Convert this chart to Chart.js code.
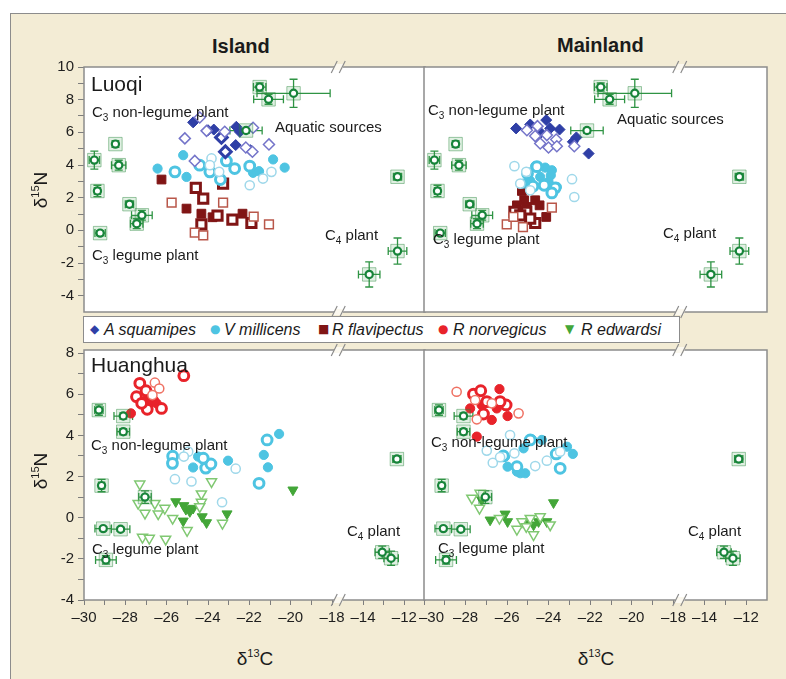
<!DOCTYPE html>
<html>
<head>
<meta charset="utf-8">
<script src="https://cdn.jsdelivr.net/npm/chart.js@4.4.1/dist/chart.umd.min.js"></script>
<style>
  body { margin: 0; background: #fff; font-family: "Liberation Sans", Arial, sans-serif; }
  #page { position: relative; width: 786px; height: 679px; overflow: hidden; }
  #frame { position: absolute; left: 10px; top: 13px; width: 800px; height: 700px; background: #f3ecd5; border: 1.5px solid #8c8c8c; }
  canvas { position: absolute; }
  .t { position: absolute; white-space: nowrap; color: #1b1b1b; font-size: 15px; line-height: 15px; }
  .t .s { font-size: 10px; position: relative; top: 4px; }
  .panel { font-size: 21px; line-height: 21px; }
  .col { font-size: 20px; line-height: 20px; font-weight: bold; }
  .ax { font-size: 19px; line-height: 19px; }
  .ax .p { font-size: 11px; position: relative; top: -8px; }
  #legend { position: absolute; left: 83px; top: 316px; width: 597px; height: 27px; background: #fff; border: 1.5px solid #8c8c8c; box-sizing: border-box; }
  #legend span { position: absolute; top: 0; line-height: 25px; }
  #legend .sym { font-family: "DejaVu Sans"; font-size: 12px; }
  #legend .lt { font-style: italic; font-size: 16px; color: #1b1b1b; }
</style>
</head>
<body>
<div id="page">
  <div id="frame"></div>

  <div class="t col" style="left:212px;top:36px">Island</div>
  <div class="t col" style="left:557px;top:35px">Mainland</div>

  <canvas id="tl" width="395" height="273" style="left:40px;top:53px"></canvas>
  <canvas id="tr" width="383" height="273" style="left:394px;top:53px"></canvas>
  <canvas id="bl" width="395" height="296" style="left:40px;top:336px"></canvas>
  <canvas id="br" width="383" height="296" style="left:394px;top:336px"></canvas>

  <div id="legend">
    <span class="sym" style="left:6px;color:#2f3fa6">&#9670;</span><span class="lt" style="left:20px">A squamipes</span>
    <span class="sym" style="left:126px;color:#4ec4e2">&#9679;</span><span class="lt" style="left:140px">V millicens</span>
    <span class="sym" style="left:234px;color:#801515">&#9632;</span><span class="lt" style="left:248px">R flavipectus</span>
    <span class="sym" style="left:354px;color:#e8232a">&#9679;</span><span class="lt" style="left:369px">R norvegicus</span>
    <span class="sym" style="left:481px;color:#43a638">&#9660;</span><span class="lt" style="left:497px">R edwardsi</span>
  </div>

  <!-- panel annotations -->
  <div class="t panel" style="left:91px;top:73px">Luoqi</div>
  <div class="t" style="left:92px;top:104px">C<span class="s">3</span> non-legume plant</div>
  <div class="t" style="left:275px;top:119px">Aquatic sources</div>
  <div class="t" style="left:325px;top:227px">C<span class="s">4</span> plant</div>
  <div class="t" style="left:92px;top:247px">C<span class="s">3</span> legume plant</div>

  <div class="t" style="left:428px;top:102px">C<span class="s">3</span> non-legume plant</div>
  <div class="t" style="left:617px;top:111px">Aquatic sources</div>
  <div class="t" style="left:663px;top:225px">C<span class="s">4</span> plant</div>
  <div class="t" style="left:433px;top:231px">C<span class="s">3</span> legume plant</div>

  <div class="t panel" style="left:91px;top:354px">Huanghua</div>
  <div class="t" style="left:91px;top:437px">C<span class="s">3</span> non-legume plant</div>
  <div class="t" style="left:347px;top:523px">C<span class="s">4</span> plant</div>
  <div class="t" style="left:92px;top:541px">C<span class="s">3</span> legume plant</div>

  <div class="t" style="left:431px;top:434px">C<span class="s">3</span> non-legume plant</div>
  <div class="t" style="left:688px;top:523px">C<span class="s">4</span> plant</div>
  <div class="t" style="left:438px;top:540px">C<span class="s">3</span> legume plant</div>

  <div class="t ax" style="left:42px;top:190px;transform:translate(-50%,-50%) rotate(-90deg)">&delta;<span class="p">15</span>N</div>
  <div class="t ax" style="left:42px;top:471px;transform:translate(-50%,-50%) rotate(-90deg)">&delta;<span class="p">15</span>N</div>
  <div class="t ax" style="left:255px;top:660px;transform:translate(-50%,-50%)">&delta;<span class="p">13</span>C</div>
  <div class="t ax" style="left:596px;top:660px;transform:translate(-50%,-50%)">&delta;<span class="p">13</span>C</div>
</div>

<script>
// ---- axis ticks (real delta13C values; the axis is broken between -18 and -14)
const xMajorLeft = [-30, -28, -26, -24, -22, -20, -18];
const xMajorRight = [-14, -12];
const yMajorTop = [-4, -2, 0, 2, 4, 6, 8, 10];
const yMajorBottom = [-4, -2, 0, 2, 4, 6, 8];

// ---- food sources: x, y, x error, y error
const luoqiSrcX = [-21.5, -21.07, -19.86, -22.16, -29.5, -28.48, -28.32, -29.35, -27.8, -27.2, -27.45, -29.22, -12.33, -12.33, -13.7];
const luoqiSrcY = [8.77, 8.02, 8.39, 6.11, 4.3, 5.28, 3.99, 2.41, 1.6, 0.92, 0.41, -0.17, 3.28, -1.27, -2.7];
const luoqiSrcXErr = [0.3, 0.72, 1.77, 0.78, 0.25, 0.15, 0.35, 0.15, 0.2, 0.5, 0.3, 0.25, 0.2, 0.45, 0.52];
const luoqiSrcYErr = [0.25, 0.3, 0.86, 0.15, 0.55, 0.2, 0.3, 0.35, 0.2, 0.3, 0.3, 0.15, 0.2, 0.8, 0.77];

const huangSrcX = [-29.28, -28.1, -28.1, -29.15, -27.05, -29.07, -28.23, -28.94, -12.36, -13.07, -12.64];
const huangSrcY = [5.23, 4.94, 4.18, 1.56, 1.0, -0.53, -0.56, -2.05, 2.85, -1.68, -1.97];
const huangSrcXErr = [0.2, 0.45, 0.3, 0.15, 0.3, 0.4, 0.45, 0.5, 0.2, 0.35, 0.35];
const huangSrcYErr = [0.25, 0.15, 0.15, 0.3, 0.3, 0.1, 0.1, 0.2, 0.15, 0.3, 0.35];

// ---- Luoqi, island
const luoqiIslSquFill = [[-24.72,6.61],[-24.0,6.13],[-23.72,6.17],[-22.63,6.34],[-22.46,6.03],[-22.66,5.22],[-21.95,4.91]];
const luoqiIslSquRing = [[-23.35,5.69],[-23.16,4.81]];
const luoqiIslSquOpen = [[-24.4,6.91],[-25.12,5.63],[-24.64,4.25],[-24.07,6.09],[-23.19,6.03],[-21.82,6.28],[-22.17,5.07],[-21.85,4.81],[-21.05,5.26]];
const luoqiIslMilFill = [[-26.44,3.78],[-25.2,4.6],[-25.04,3.27],[-21.82,3.52],[-21.53,3.62],[-20.85,4.34],[-20.29,3.84]];
const luoqiIslMilRing = [[-25.6,3.58],[-24.4,3.99],[-23.91,3.58],[-23.4,3.11],[-23.11,4.25],[-22.71,3.78],[-21.98,3.93]];
const luoqiIslMilOpen = [[-23.83,4.4],[-23.91,3.99],[-23.46,3.58],[-21.34,3.17],[-20.93,3.58],[-21.98,2.76]];
const luoqiIslFlaFill = [[-26.25,3.11],[-25.04,1.33],[-24.32,1.02],[-23.78,0.8],[-22.33,1.02]];
const luoqiIslFlaRing = [[-24.59,2.6],[-24.23,1.94],[-23.27,2.86],[-23.54,0.9],[-22.82,0.65],[-21.9,0.45],[-24.32,0.36]];
const luoqiIslFlaOpen = [[-25.76,1.69],[-23.27,1.7],[-24.64,-0.14],[-24.23,-0.31],[-21.79,0.84],[-21.05,0.37]];

// ---- Luoqi, mainland
const luoqiMainSquFill = [[-25.57,6.24],[-24.89,6.48],[-24.38,5.97],[-24.12,6.75],[-23.93,6.24],[-23.48,6.17],[-22.67,5.69],[-22.08,4.7],[-22.84,5.42]];
const luoqiMainSquOpen = [[-25.05,6.13],[-24.54,6.38],[-24.09,5.83],[-23.64,5.56],[-24.41,5.32],[-24.01,5.07],[-23.61,5.15],[-22.77,5.15],[-24.65,5.77]];
const luoqiMainMilFill = [[-24.65,3.93],[-24.17,3.84],[-23.85,3.68],[-23.9,3.37],[-24.41,3.27],[-24.89,3.03],[-25.21,2.86],[-23.61,2.66],[-24.01,2.97]];
const luoqiMainMilRing = [[-24.57,3.9],[-25.02,3.48],[-24.22,2.76],[-24.76,2.7],[-23.69,2.6],[-23.85,2.29]];
const luoqiMainMilOpen = [[-25.65,3.93],[-25.08,3.58],[-22.88,3.13],[-22.77,2.04],[-25.37,2.86],[-24.89,2.45]];
const luoqiMainFlaFill = [[-25.29,2.41],[-25.18,1.84],[-25.53,1.53],[-25.37,1.23],[-24.65,1.84],[-24.44,1.53],[-24.12,0.82],[-25.05,1.43]];
const luoqiMainFlaRing = [[-25.65,1.13],[-25.08,1.13],[-24.65,0.45],[-24.89,0.72],[-25.37,0.92]];
const luoqiMainFlaOpen = [[-23.85,1.39],[-26.02,0.37],[-25.24,0.2],[-25.7,0.82]];

// ---- Huanghua, island
const huangIslNorFill = [[-27.05,5.68],[-26.81,5.59],[-26.62,5.72],[-26.49,5.56],[-27.73,5.07]];
const huangIslNorRing = [[-25.17,6.9],[-27.3,6.53],[-27.0,6.17],[-27.46,5.88],[-26.94,5.27],[-26.25,5.31],[-27.21,5.56]];
const huangIslNorOpen = [[-26.57,6.56],[-26.36,6.28],[-26.69,5.96]];
const huangIslMilFill = [[-20.56,4.07],[-21.3,3.05],[-21.1,2.45],[-23.03,2.77],[-24.72,2.44],[-24.48,2.97]];
const huangIslMilRing = [[-21.14,3.78],[-21.53,1.67],[-24.11,2.41],[-23.86,2.61],[-24.23,2.89],[-25.71,2.99],[-25.72,2.64]];
const huangIslMilOpen = [[-22.66,2.38],[-23.32,0.75],[-24.96,3.21],[-25.17,2.97],[-25.6,1.87],[-24.8,1.76]];
const huangIslEdwFill = [[-19.89,1.35],[-25.56,0.78],[-25.17,0.59],[-25.07,0.41],[-24.72,0.46],[-24.28,0.05],[-24.07,-0.24],[-23.08,0.19],[-25.2,-0.16],[-24.88,0.3]];
const huangIslEdwOpen = [[-27.3,1.64],[-23.83,1.75],[-24.32,1.16],[-24.32,0.75],[-27.38,0.7],[-27.05,0.22],[-26.57,0.7],[-26.09,0.46],[-26.41,0.19],[-25.71,-0.03],[-25.01,-0.62],[-23.3,-0.27],[-27.17,-0.95],[-26.84,-1.0],[-26.05,-1.04],[-24.4,0.54]];

// ---- Huanghua, mainland
const huangMainNorFill = [[-26.37,6.25],[-27.23,5.48],[-26.5,5.31],[-26.74,4.75],[-25.98,4.94],[-27.46,3.94],[-27.78,5.31]];
const huangMainNorRing = [[-27.62,6.0],[-27.27,6.17],[-26.98,5.64],[-26.05,5.48],[-27.14,5.04],[-26.34,5.64]];
const huangMainNorOpen = [[-28.43,6.12],[-27.54,5.72],[-26.74,5.56],[-27.46,4.78],[-25.45,5.07]];
const huangMainMilFill = [[-25.21,3.37],[-24.81,3.81],[-24.33,3.78],[-23.12,3.45],[-22.84,3.1],[-26.1,2.97],[-25.98,2.48],[-25.53,2.24],[-25.13,2.16],[-25.37,2.16]];
const huangMainMilRing = [[-26.18,3.0],[-25.53,2.48],[-23.64,3.1],[-23.45,2.4],[-24.89,3.78]];
const huangMainMilOpen = [[-25.86,4.02],[-26.98,3.26],[-26.69,2.67],[-26.34,2.94],[-25.65,3.13],[-24.65,2.51],[-24.09,2.77],[-23.45,3.21]];
const huangMainEdwFill = [[-23.77,0.73],[-27.23,0.87],[-26.82,-0.11],[-26.1,0.18],[-25.98,-0.19],[-25.05,-0.27],[-24.49,-0.19],[-24.09,-0.19],[-24.73,-0.35]];
const huangMainEdwOpen = [[-27.7,0.95],[-27.3,1.19],[-27.33,0.46],[-26.37,-0.03],[-25.53,-0.56],[-25.29,-0.19],[-24.89,-0.03],[-24.73,-0.83],[-24.41,0.05],[-23.93,-0.35],[-25.08,-0.43]];

// marker look per species
const SQU = { style: 'rectRot', r: 5.5, dark: '#2f3fa6', light: '#7474c9' };
const MIL = { style: 'circle', r: 4.6, dark: '#4ec4e2', light: '#9fd8ea' };
const FLA = { style: 'rect', r: 6.2, dark: '#801515', light: '#b9574a' };
const NOR = { style: 'circle', r: 4.6, dark: '#e8232a', light: '#ef7163' };
const EDW = { style: 'triangle', r: 5.8, rot: 180, dark: '#43a638', light: '#80c872' };

const FONT = '"Liberation Sans", Arial, sans-serif';

// axis break: values right of the break (-14 .. -12) are pulled left by 2.5
function brk(x) {
  return x > -16 ? x - 2.5 : x;
}
function unbrk(v) {
  return v > -17.5 ? v + 2.5 : v;
}

function speciesSets(sp, fill, ring, open) {
  let out = [];
  let groups = [['open', open], ['ring', ring], ['fill', fill]];
  for (const [kind, pts] of groups) {
    if (!pts || !pts.length) continue;
    out.push({
      data: pts.map(p => ({ x: brk(p[0]), y: p[1] })),
      pointStyle: sp.style,
      pointRotation: sp.rot || 0,
      pointRadius: kind === 'ring' ? sp.r + 0.3 : sp.r,
      pointBackgroundColor: kind === 'fill' ? sp.dark : '#ffffff',
      pointBorderColor: kind === 'open' ? sp.light : sp.dark,
      pointBorderWidth: kind === 'ring' ? 3 : (kind === 'open' ? 1.5 : 1)
    });
  }
  return out;
}

function sourceSets(xs, ys) {
  let pts = xs.map((x, i) => ({ x: brk(x), y: ys[i] }));
  return [
    { data: pts, pointStyle: 'circle', pointRadius: 3.6, pointBackgroundColor: '#ffffff', pointBorderColor: '#17843a', pointBorderWidth: 2.2 },
    { data: pts, pointStyle: 'rect', pointRadius: 9.5, pointBackgroundColor: 'rgba(70,160,80,0.16)', pointBorderColor: 'rgba(40,135,60,0.45)', pointBorderWidth: 1 }
  ];
}

function errorBarPlugin(xs, ys, xe, ye) {
  return {
    id: 'errorBars',
    beforeDatasetsDraw(chart) {
      const sx = chart.scales.x, sy = chart.scales.y, ctx = chart.ctx;
      ctx.save();
      ctx.strokeStyle = '#2f9444';
      ctx.lineWidth = 1.3;
      for (let i = 0; i < xs.length; i++) {
        let px = sx.getPixelForValue(brk(xs[i]));
        let py = sy.getPixelForValue(ys[i]);
        let x1 = sx.getPixelForValue(brk(xs[i] - xe[i]));
        let x2 = sx.getPixelForValue(brk(xs[i] + xe[i]));
        let y1 = sy.getPixelForValue(ys[i] - ye[i]);
        let y2 = sy.getPixelForValue(ys[i] + ye[i]);
        ctx.beginPath();
        ctx.moveTo(x1, py); ctx.lineTo(x2, py);
        ctx.moveTo(x1, py - 4); ctx.lineTo(x1, py + 4);
        ctx.moveTo(x2, py - 4); ctx.lineTo(x2, py + 4);
        ctx.moveTo(px, y1); ctx.lineTo(px, y2);
        ctx.moveTo(px - 4, y1); ctx.lineTo(px + 4, y1);
        ctx.moveTo(px - 4, y2); ctx.lineTo(px + 4, y2);
        ctx.stroke();
      }
      ctx.restore();
    }
  };
}

const framePlugin = {
  id: 'frame',
  beforeDraw(chart) {
    const a = chart.chartArea, ctx = chart.ctx;
    ctx.save();
    ctx.fillStyle = '#ffffff';
    ctx.fillRect(a.left, a.top, a.right - a.left, a.bottom - a.top);
    ctx.restore();
  },
  afterDraw(chart) {
    const a = chart.chartArea, ctx = chart.ctx;
    ctx.save();
    ctx.strokeStyle = '#8c8c8c';
    ctx.lineWidth = 1.5;
    ctx.strokeRect(a.left, a.top, a.right - a.left, a.bottom - a.top);
    // break marks on top and bottom edges
    let c = chart.scales.x.getPixelForValue(-17.65);
    for (const y of [a.top, a.bottom]) {
      ctx.fillStyle = '#fbf8ef';
      ctx.beginPath();
      ctx.moveTo(c - 6, y + 3); ctx.lineTo(c - 4.5, y - 3);
      ctx.lineTo(c + 4.5, y - 3); ctx.lineTo(c + 3, y + 3);
      ctx.closePath();
      ctx.fill();
      ctx.beginPath();
      ctx.lineWidth = 1.2;
      ctx.moveTo(c - 8, y + 6); ctx.lineTo(c - 2, y - 6);
      ctx.moveTo(c + 0, y + 6); ctx.lineTo(c + 6, y - 6);
      ctx.stroke();
    }
    ctx.restore();
  }
};

function xTickValues() {
  let v = [];
  for (let x = -30; x <= -18; x++) v.push(x);
  return v.concat([-14, -13, -12].map(brk));
}

function yTickValues(lo, hi) {
  let v = [];
  for (let y = lo; y <= hi; y++) v.push(y);
  return v;
}

function makePanel(id, o) {
  const majorX = xMajorLeft.concat(xMajorRight);
  const majorY = o.yMax > 9 ? yMajorTop : yMajorBottom;
  return new Chart(document.getElementById(id), {
    type: 'scatter',
    data: { datasets: o.datasets },
    options: {
      responsive: false,
      animation: false,
      devicePixelRatio: 1,
      layout: { padding: o.padding, autoPadding: false },
      plugins: { legend: { display: false }, tooltip: { enabled: false } },
      scales: {
        x: {
          type: 'linear', min: -30, max: -13.5,
          display: o.xAxis,
          afterBuildTicks: s => { s.ticks = xTickValues().map(v => ({ value: v })); },
          afterFit: s => { if (o.xAxis) s.height = 32; },
          grid: { drawOnChartArea: false, tickLength: 5, color: '#7d7d7d', lineWidth: 1 },
          border: { display: false },
          ticks: {
            autoSkip: false, maxRotation: 0, padding: 4, color: '#1e1e1e',
            font: { size: 15, family: FONT },
            callback: v => {
              let real = Math.round(unbrk(v));
              if (!majorX.includes(real)) return '';
              let lab = '\u2013' + Math.abs(real);
              return (o.shiftFirst && real === -30) ? '\u2002\u2002' + lab : lab;
            }
          }
        },
        y: {
          type: 'linear', min: o.yMin, max: o.yMax,
          display: o.yAxis,
          afterBuildTicks: s => { s.ticks = yTickValues(-4, Math.floor(o.yMax)).map(v => ({ value: v })); },
          afterFit: s => { if (o.yAxis) s.width = 44; },
          grid: { drawOnChartArea: false, tickLength: 6, color: '#7d7d7d', lineWidth: 1 },
          border: { display: false },
          ticks: {
            autoSkip: false, padding: 4, color: '#1e1e1e',
            font: { size: 15, family: FONT },
            callback: v => majorY.includes(v) ? String(v) : ''
          }
        }
      }
    },
    plugins: [framePlugin, o.errors]
  });
}

// Luoqi island
makePanel('tl', {
  datasets: [].concat(
    sourceSets(luoqiSrcX, luoqiSrcY),
    speciesSets(SQU, luoqiIslSquFill, luoqiIslSquRing, luoqiIslSquOpen),
    speciesSets(MIL, luoqiIslMilFill, luoqiIslMilRing, luoqiIslMilOpen),
    speciesSets(FLA, luoqiIslFlaFill, luoqiIslFlaRing, luoqiIslFlaOpen)
  ),
  errors: errorBarPlugin(luoqiSrcX, luoqiSrcY, luoqiSrcXErr, luoqiSrcYErr),
  padding: { top: 14, right: 10, bottom: 14, left: 0 },
  yMin: -5, yMax: 10, xAxis: false, yAxis: true
});

// Luoqi mainland
makePanel('tr', {
  datasets: [].concat(
    sourceSets(luoqiSrcX, luoqiSrcY),
    speciesSets(SQU, luoqiMainSquFill, [], luoqiMainSquOpen),
    speciesSets(MIL, luoqiMainMilFill, luoqiMainMilRing, luoqiMainMilOpen),
    speciesSets(FLA, luoqiMainFlaFill, luoqiMainFlaRing, luoqiMainFlaOpen)
  ),
  errors: errorBarPlugin(luoqiSrcX, luoqiSrcY, luoqiSrcXErr, luoqiSrcYErr),
  padding: { top: 14, right: 10, bottom: 14, left: 30 },
  yMin: -5, yMax: 10, xAxis: false, yAxis: false
});

// Huanghua island
makePanel('bl', {
  datasets: [].concat(
    sourceSets(huangSrcX, huangSrcY),
    speciesSets(NOR, huangIslNorFill, huangIslNorRing, huangIslNorOpen),
    speciesSets(MIL, huangIslMilFill, huangIslMilRing, huangIslMilOpen),
    speciesSets(EDW, huangIslEdwFill, [], huangIslEdwOpen)
  ),
  errors: errorBarPlugin(huangSrcX, huangSrcY, huangSrcXErr, huangSrcYErr),
  padding: { top: 14, right: 10, bottom: 0, left: 0 },
  yMin: -4, yMax: 8.15, xAxis: true, yAxis: true
});

// Huanghua mainland
makePanel('br', {
  datasets: [].concat(
    sourceSets(huangSrcX, huangSrcY),
    speciesSets(NOR, huangMainNorFill, huangMainNorRing, huangMainNorOpen),
    speciesSets(MIL, huangMainMilFill, huangMainMilRing, huangMainMilOpen),
    speciesSets(EDW, huangMainEdwFill, [], huangMainEdwOpen)
  ),
  errors: errorBarPlugin(huangSrcX, huangSrcY, huangSrcXErr, huangSrcYErr),
  padding: { top: 14, right: 10, bottom: 0, left: 30 },
  yMin: -4, yMax: 8.15, xAxis: true, yAxis: false, shiftFirst: true
});
</script>
</body>
</html>
